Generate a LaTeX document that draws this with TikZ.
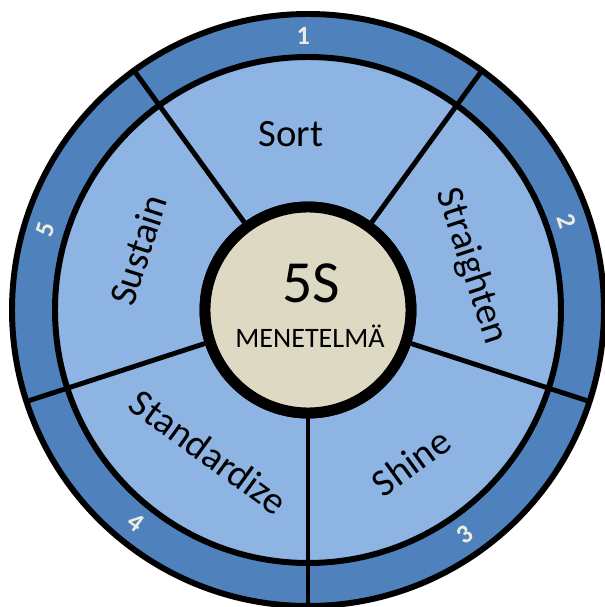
\documentclass[tikz,border=0pt]{standalone}
\usepackage{fontspec}
\setmainfont{Carlito}
\usetikzlibrary{calc}
\definecolor{ringblue}{HTML}{4F81BD}
\definecolor{sectorblue}{HTML}{8EB4E3}
\definecolor{corebeige}{HTML}{DDD9C3}
\definecolor{numcream}{HTML}{EEECE1}
\tikzset{
  rim/.style={draw,line width=3.4pt},
  spoke/.style={draw,line width=2.8pt},
  hubdisc/.style={draw,circle,fill=corebeige,line width=6.2pt,minimum size=4.12cm,inner sep=0pt},
  stage/.style={font=\fontsize{22}{22}\selectfont},
  stepnum/.style={font=\bfseries\fontsize{15}{15}\selectfont,text=numcream}
}

\begin{document}
\begin{tikzpicture}
  \useasboundingbox (0,0) rectangle (12.08,12.14);
  \coordinate (c) at (6.16,5.94);

  % outer ring and sector disc
  \draw[rim,fill=ringblue] (c) circle (5.92);
  \draw[rim,fill=sectorblue] (c) circle (5.06);

  \node[hubdisc] (hub) at (c) {};
  \foreach \a in {270,342,54,126,198}
    \draw[spoke] (hub.\a) -- ($(c)+(\a:5.92)$);
  \node[hubdisc] (hubtop) at (c) {};

  \node[font=\fontsize{34}{34}\selectfont,anchor=base] (title) at ($(hubtop.center)+(0.06,0.14)$) {5S};
  \node[font=\fontsize{16}{16}\selectfont,anchor=base] (subtitle) at ($(hubtop.center)+(0.04,-0.74)$) {MENETELMÄ};

  % sector names and step numbers
  \foreach \a/\r/\rot/\txt in {95.5/3.54/0/Sort, 15/3.38/-72/Straighten, -55.9/3.67/36/Shine, 235.1/3.46/-36/Standardize, 160.6/3.6/72/Sustain}
    \node[stage,rotate=\rot] (s-\txt) at ($(c)+(\a:\r)$) {\txt};
  \foreach \a/\rot/\n in {91/0/1, 19/-72/2, -55/36/3, 231/-36/4, 163/72/5}
    \node[stepnum,rotate=\rot] (n\n) at ($(c)+(\a:5.48)$) {\n};
\end{tikzpicture}
\end{document}
